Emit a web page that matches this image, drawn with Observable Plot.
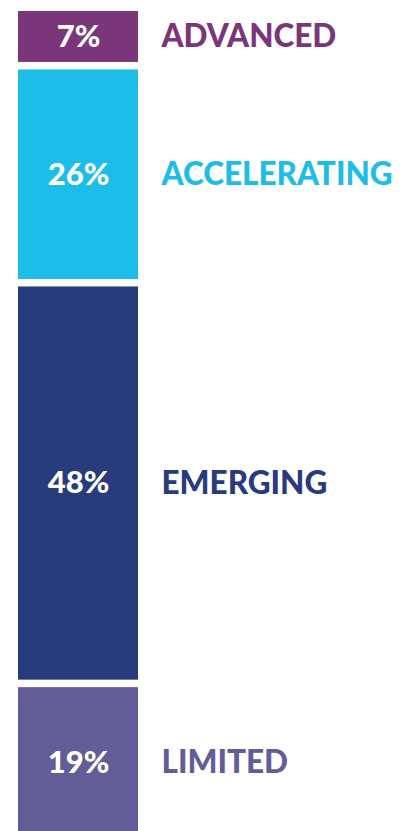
<!DOCTYPE html>
<html>
<head>
<meta charset="utf-8">
<script src="https://cdn.jsdelivr.net/npm/d3@7"></script>
<script src="https://cdn.jsdelivr.net/npm/@observablehq/plot@0.6"></script>
<style>
  html, body { margin: 0; padding: 0; background: #fff; }
  svg { display: block; }
</style>
</head>
<body>
<div id="chart"></div>
<script>
// Top-to-bottom, as in the picture
const categories = ["ADVANCED", "ACCELERATING", "EMERGING", "LIMITED"];
const shares = [7, 26, 48, 19];
const colors = ["#7b3679", "#1dbde9", "#283b7d", "#635d97"];

const data = categories.map((name, i) => ({name, value: shares[i], label: shares[i] + "%"}));

const chart = Plot.plot({
  width: 411,
  height: 831,
  margin: 0,
  style: {fontFamily: "Lato, 'Open Sans', sans-serif", background: "white"},
  x: {type: "band", domain: ["bar"], range: [18, 138], padding: 0, axis: null},
  y: {domain: [0, 100], range: [842, 7.25], axis: null},
  color: {domain: categories, range: colors},
  marks: [
    Plot.barY(data, {
      x: () => "bar", y: "value", fill: "name",
      order: null, reverse: true,
      insetTop: 3.75, insetBottom: 3.75
    }),
    Plot.text(data, Plot.stackY({
      x: () => "bar", y: "value", text: "label",
      order: null, reverse: true,
      fill: "white", fontSize: 31, fontWeight: 900
    })),
    Plot.text(data, Plot.stackY({
      x: () => "bar", y: "value", text: "name",
      order: null, reverse: true,
      fill: "name", fontSize: 31.5, fontWeight: 900,
      textAnchor: "start", dx: 83
    }))
  ]
});
document.getElementById("chart").appendChild(chart);
</script>
</body>
</html>
